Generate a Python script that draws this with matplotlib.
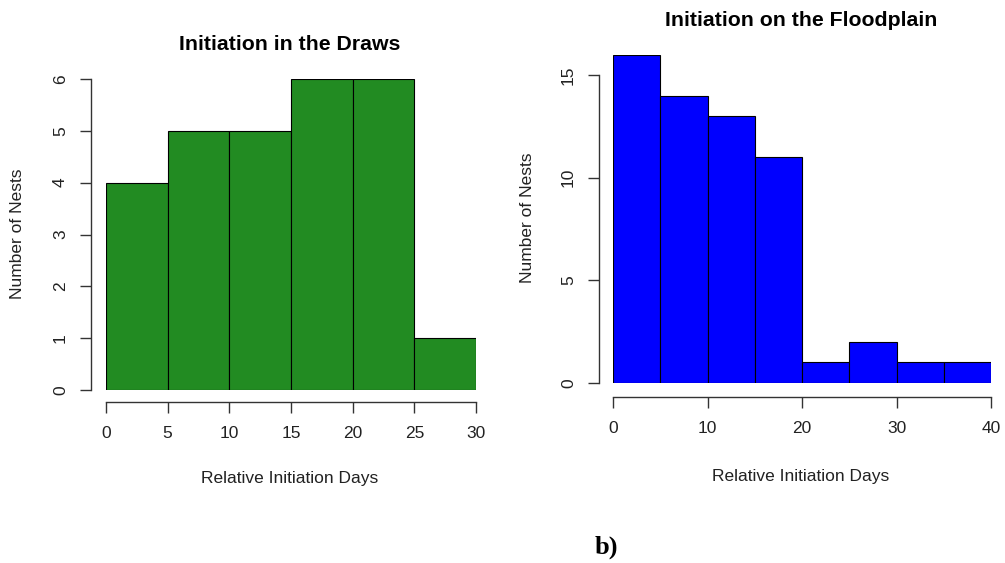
import matplotlib
matplotlib.use("Agg")
import matplotlib.pyplot as plt
import numpy as np

# histogram data
draws_edges = [0, 5, 10, 15, 20, 25, 30]
draws_counts = [4, 5, 5, 6, 6, 1]
flood_edges = [0, 5, 10, 15, 20, 25, 30, 35, 40]
flood_counts = [16, 14, 13, 11, 1, 2, 1, 1]

draws_xticks = [0, 5, 10, 15, 20, 25, 30]
draws_yticks = [0, 1, 2, 3, 4, 5, 6]
flood_xticks = [0, 10, 20, 30, 40]
flood_yticks = [0, 5, 10, 15]

plt.rcParams['font.family'] = ['Liberation Sans', 'DejaVu Sans']
W, H = 1005, 563
PT = 0.72  # points per pixel at dpi 100
fig = plt.figure(figsize=(W / 100, H / 100), dpi=100)


def px_axes(left, right, bottom, top):
    return fig.add_axes([left / W, (H - bottom) / H, (right - left) / W, (bottom - top) / H])


def style(ax, xticks, yticks, xout, yout):
    for s in ['top', 'right']:
        ax.spines[s].set_visible(False)
    ax.spines['left'].set_position(('outward', yout * PT))
    ax.spines['bottom'].set_position(('outward', xout * PT))
    ax.spines['left'].set_bounds(yticks[0], yticks[-1])
    ax.spines['bottom'].set_bounds(xticks[0], xticks[-1])
    for s in ['left', 'bottom']:
        ax.spines[s].set_color('#333333')
        ax.spines[s].set_linewidth(1.0)
    ax.set_xticks(xticks)
    ax.set_yticks(yticks)
    ax.tick_params(axis='both', length=11 * PT, width=1.0, color='#333333',
                   labelsize=12.5, labelcolor='#222222')
    ax.tick_params(axis='x', pad=13 * PT)
    ax.tick_params(axis='y', pad=12 * PT)
    for lab in ax.get_yticklabels():
        lab.set_rotation(90)
        lab.set_va('center')
    ax.patch.set_visible(False)


# left: draws
ax1 = px_axes(106, 476, 390, 79)
e = np.array(draws_edges)
ax1.bar(e[:-1], draws_counts, width=np.diff(e), align='edge',
        color='#228B22', edgecolor='black', linewidth=0.8)
ax1.set_xlim(0, 30)
ax1.set_ylim(0, 6)
style(ax1, draws_xticks, draws_yticks, 12, 15)

# right: floodplain
ax2 = px_axes(613, 991, 383, 54.5)
e = np.array(flood_edges)
ax2.bar(e[:-1], flood_counts, width=np.diff(e), align='edge',
        color='#0000FF', edgecolor='black', linewidth=0.8)
ax2.set_xlim(0, 40)
ax2.set_ylim(0, 16)
style(ax2, flood_xticks, flood_yticks, 14, 14)

fig.text(290 / W, 1 - 45 / H, 'Initiation in the Draws', ha='center', va='center',
         fontsize=15.3, fontweight='bold')
fig.text(801 / W, 1 - 20 / H, 'Initiation on the Floodplain', ha='center', va='center',
         fontsize=15.3, fontweight='bold')
fig.text(290 / W, 1 - 478 / H, 'Relative Initiation Days', ha='center', va='center',
         fontsize=12.5, color='#222222')
fig.text(801 / W, 1 - 476 / H, 'Relative Initiation Days', ha='center', va='center',
         fontsize=12.5, color='#222222')
fig.text(18 / W, 1 - 234 / H, 'Number of Nests', ha='center', va='center',
         rotation=90, fontsize=12.5, color='#222222')
fig.text(527 / W, 1 - 218 / H, 'Number of Nests', ha='center', va='center',
         rotation=90, fontsize=12.5, color='#222222')
fig.text(606 / W, 1 - 547 / H, 'b)', ha='center', va='center', fontsize=19,
         fontweight='bold', family=['Liberation Serif', 'DejaVu Serif'])

fig.savefig('out.png', dpi=100)
